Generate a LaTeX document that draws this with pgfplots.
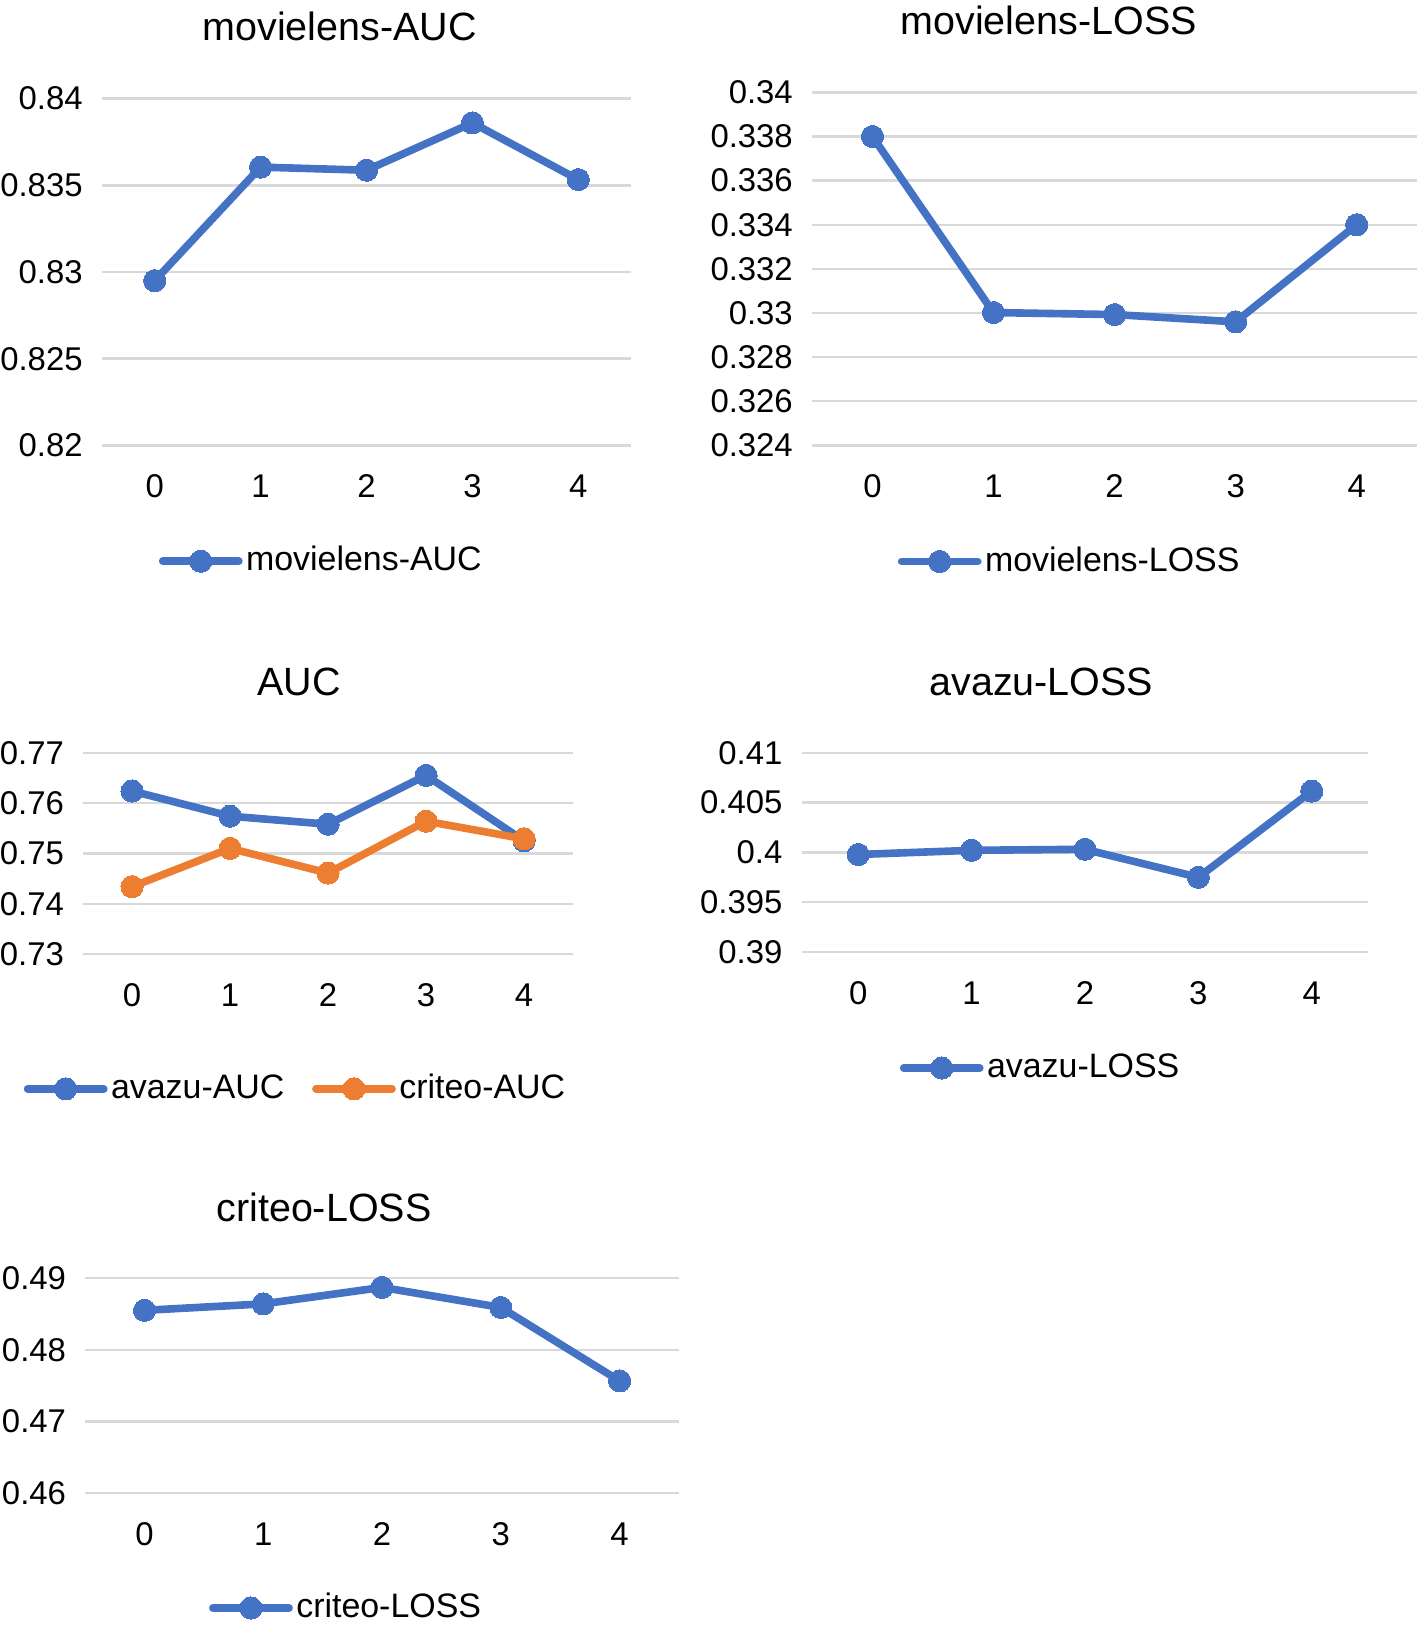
\documentclass[border=0pt]{standalone}
\usepackage{fontspec}
\setmainfont{Liberation Sans}
\usepackage{pgfplots}
\pgfplotsset{compat=1.18}
\definecolor{xblue}{HTML}{4472C4}
\definecolor{xorange}{HTML}{ED7D31}
\definecolor{xgrid}{HTML}{D9D9D9}
\pgfplotsset{
  xlchart/.style={
    scale only axis,
    anchor=south west,
    xmin=-0.5, xmax=4.5,
    xtick={0,1,2,3,4},
    axis line style={draw=none},
    major tick length=0pt,
    ymajorgrids,
    major grid style={color=xgrid, line width=0.7pt},
    scaled y ticks=false,
    clip=false,
    tick label style={font=\fontsize{9.5}{11}\selectfont},
    /pgf/number format/.cd, assume math mode=true, fixed, precision=3, /pgfplots/.cd,
    yticklabel style={xshift=-2pt},
    xticklabel style={yshift=-5pt},
    legend style={draw=none, fill=none, anchor=center, yshift=-0.8pt,
      font=\fontsize{9.8}{11}\selectfont, legend columns=-1,
      /tikz/every even column/.append style={column sep=7pt},
      nodes={inner xsep=1pt, inner ysep=0pt}},
    legend image code/.code={\draw[mark repeat=2, mark phase=2, ##1] plot coordinates {(0pt,0pt) (11pt,0pt) (22pt,0pt)};},
  },
  xlline/.style={color=#1, line width=2.2pt, line join=round, line cap=round,
    mark=*, mark size=3.2pt, mark options={fill=#1, draw=#1, line width=0pt}},
}
\begin{document}
\begin{tikzpicture}
\path[use as bounding box] (0,0) rectangle (410.1pt,470.4pt);
\def\tfont{\fontsize{11.4}{13}\selectfont}
\node[font=\tfont] at (98.1pt,462.9pt) {movielens-AUC};
\node[font=\tfont] at (303pt,464.4pt) {movielens-LOSS};
\node[font=\tfont] at (86.4pt,273.3pt) {AUC};
\node[font=\tfont] at (300.9pt,273.3pt) {avazu-LOSS};
\node[font=\tfont] at (93.6pt,121.5pt) {criteo-LOSS};

% Panel 1
\begin{axis}[xlchart, at={(29.4pt,341.7pt)}, width=153pt, height=100.2pt,
  ymin=0.82, ymax=0.84, ytick={0.82,0.825,0.83,0.835,0.84},
  legend style={at={(0.416,-0.326)}}]
\addplot[xlline=xblue] coordinates {(0,0.8295) (1,0.83605) (2,0.83587) (3,0.8386) (4,0.83533)};
\addlegendentry{movielens-AUC}
\end{axis}

% Panel 2
\begin{axis}[xlchart, at={(234.6pt,341.7pt)}, width=174.9pt, height=102pt,
  ymin=0.324, ymax=0.34, ytick={0.324,0.326,0.328,0.33,0.332,0.334,0.336,0.338,0.34},
  legend style={at={(0.427,-0.321)}}]
\addplot[xlline=xblue] coordinates {(0,0.338) (1,0.33002) (2,0.32993) (3,0.3296) (4,0.334)};
\addlegendentry{movielens-LOSS}
\end{axis}

% Panel 3
\begin{axis}[xlchart, at={(24pt,194.7pt)}, width=141.6pt, height=58.2pt,
  ymin=0.73, ymax=0.77, ytick={0.73,0.74,0.75,0.76,0.77},
  legend style={at={(0.435,-0.655)}}]
\addplot[xlline=xblue] coordinates {(0,0.7624) (1,0.7574) (2,0.7558) (3,0.7655) (4,0.7525)};
\addlegendentry{avazu-AUC}
\addplot[xlline=xorange] coordinates {(0,0.7434) (1,0.751) (2,0.7461) (3,0.7564) (4,0.7529)};
\addlegendentry{criteo-AUC}
\end{axis}

% Panel 4
\begin{axis}[xlchart, at={(231.6pt,195.3pt)}, width=163.8pt, height=57.6pt,
  ymin=0.39, ymax=0.41, ytick={0.39,0.395,0.4,0.405,0.41},
  legend style={at={(0.423,-0.568)}}]
\addplot[xlline=xblue] coordinates {(0,0.39979) (1,0.40021) (2,0.40031) (3,0.3975) (4,0.40615)};
\addlegendentry{avazu-LOSS}
\end{axis}

% Panel 5
\begin{axis}[xlchart, at={(24.6pt,39pt)}, width=171.6pt, height=62.1pt,
  ymin=0.46, ymax=0.49, ytick={0.46,0.47,0.48,0.49},
  legend style={at={(0.4406,-0.522)}}]
\addplot[xlline=xblue] coordinates {(0,0.4855) (1,0.4864) (2,0.4887) (3,0.4859) (4,0.47565)};
\addlegendentry{criteo-LOSS}
\end{axis}
\end{tikzpicture}
\end{document}
